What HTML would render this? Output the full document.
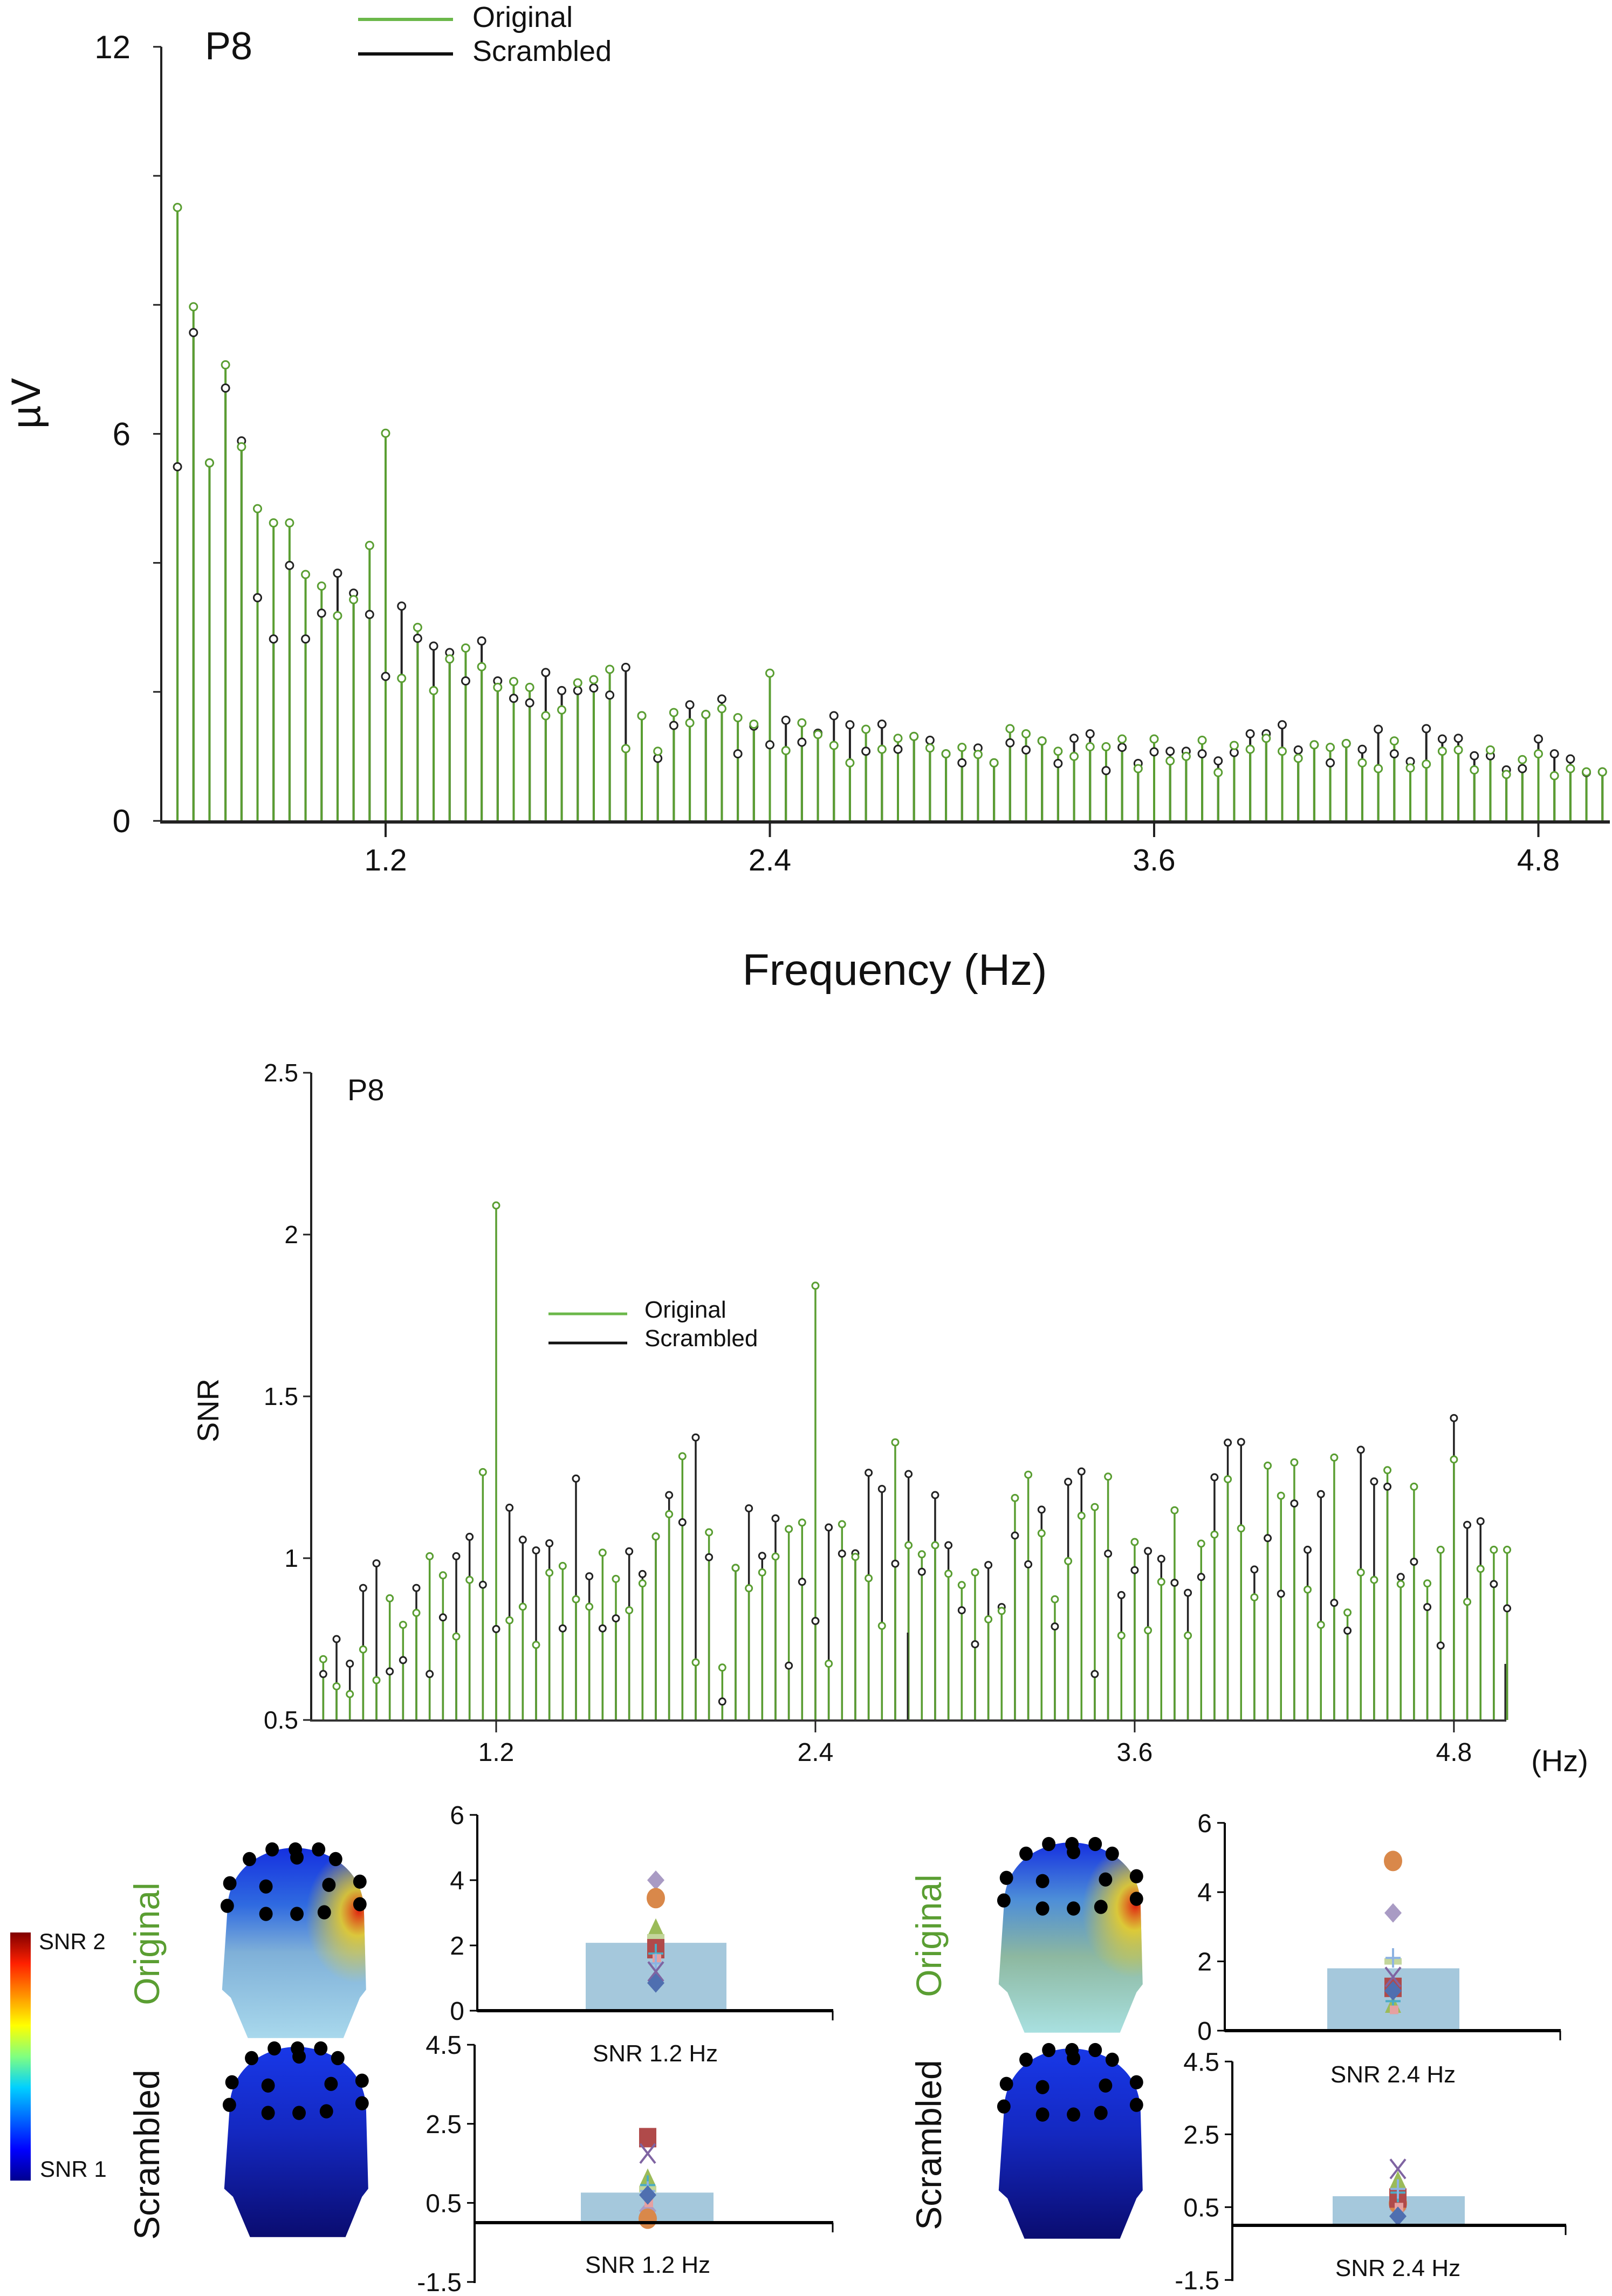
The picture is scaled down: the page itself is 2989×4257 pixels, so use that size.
<!DOCTYPE html>
<html><head><meta charset="utf-8"><style>
html,body{margin:0;padding:0;background:#fff;}
svg{display:block;font-family:"Liberation Sans",sans-serif;}
</style></head><body>
<svg id="fig" width="2989" height="4257" viewBox="0 0 2989 4257" xmlns="http://www.w3.org/2000/svg">
<defs>
<linearGradient id="gOrig" x1="0" y1="0" x2="0" y2="1">
<stop offset="0" stop-color="#1530e0"/><stop offset="0.3" stop-color="#2f6ae0"/><stop offset="0.55" stop-color="#7fb0d8"/><stop offset="1" stop-color="#a8d8ec"/></linearGradient>
<linearGradient id="gOrig2" x1="0" y1="0" x2="0" y2="1">
<stop offset="0" stop-color="#1530e0"/><stop offset="0.3" stop-color="#4d8ed8"/><stop offset="0.6" stop-color="#8db8a0"/><stop offset="1" stop-color="#a8e0e0"/></linearGradient>
<radialGradient id="hot" cx="0.93" cy="0.36" r="0.35" fx="0.95" fy="0.33">
<stop offset="0" stop-color="#e02010" stop-opacity="1"/><stop offset="0.35" stop-color="#f0d020" stop-opacity="0.85"/><stop offset="1" stop-color="#f0d020" stop-opacity="0"/></radialGradient>
<linearGradient id="gScr" x1="0" y1="0" x2="0" y2="1">
<stop offset="0" stop-color="#1838e8"/><stop offset="0.45" stop-color="#1428c0"/><stop offset="1" stop-color="#0a0c70"/></linearGradient>
<linearGradient id="cbar" x1="0" y1="1" x2="0" y2="0">
<stop offset="0" stop-color="#00008f"/><stop offset="0.125" stop-color="#0000ff"/><stop offset="0.375" stop-color="#00d0ff"/><stop offset="0.5" stop-color="#80ff80"/><stop offset="0.625" stop-color="#ffff00"/><stop offset="0.875" stop-color="#ff2000"/><stop offset="1" stop-color="#800000"/></linearGradient>
</defs>
<g id="top"></g>
<g id="snr"></g>
<g id="bottom"></g>
</svg>
<script>
const NS="http://www.w3.org/2000/svg";
function mk(parent,tag,attrs,text){const e=document.createElementNS(NS,tag);for(const k in attrs)e.setAttribute(k,attrs[k]);if(text!==undefined)e.textContent=text;parent.appendChild(e);return e;}

// ---------- data ----------
const freqStart=0.55, freqStep=0.05;
const ampOriginal=[9.51,7.97,5.55,7.07,5.80,4.84,4.62,4.62,3.82,3.64,3.18,3.43,4.27,6.01,2.21,3.00,2.02,2.51,2.68,2.39,2.07,2.16,2.07,1.63,1.72,2.14,2.19,2.35,1.12,1.63,1.08,1.68,1.52,1.65,1.74,1.60,1.50,2.29,1.09,
1.52,1.34,1.17,0.90,1.42,1.11,1.28,1.31,1.13,1.04,1.14,1.03,0.90,1.43,1.35,1.24,1.08,1.00,1.15,1.15,1.27,0.81,1.27,0.93,1.00,1.25,0.75,1.17,1.11,1.28,1.08,0.97,1.18,1.14,1.20,0.90,0.81,1.24,0.82,0.88,1.08,1.10,0.79,1.10,0.72,0.95,1.04,0.70,0.81,0.76,0.76];
const ampScrambled=[5.49,7.57,5.55,6.71,5.89,3.46,2.82,3.96,2.82,3.22,3.84,3.53,3.20,2.24,3.33,2.83,2.71,2.61,2.17,2.79,2.17,1.90,1.83,2.30,2.02,2.02,2.06,1.95,2.38,1.63,0.97,1.48,1.80,1.65,1.89,1.04,1.47,1.18,1.56,
1.22,1.36,1.63,1.49,1.08,1.50,1.11,1.31,1.25,1.04,0.90,1.13,0.90,1.21,1.10,1.24,0.89,1.28,1.35,0.78,1.14,0.89,1.07,1.08,1.08,1.04,0.93,1.06,1.35,1.35,1.49,1.10,1.18,0.90,1.20,1.11,1.42,1.04,0.92,1.43,1.27,1.28,1.01,1.01,0.79,0.81,1.27,1.04,0.96,0.75,0.76];
const snrOriginal=[0.688,0.604,0.58,0.718,0.623,0.876,0.794,0.831,1.006,0.947,0.758,0.933,1.266,2.09,0.808,0.85,0.732,0.955,0.976,0.873,0.85,1.017,0.936,0.839,0.922,1.067,1.136,1.315,0.678,1.08,0.662,0.97,0.907,0.956,1.005,1.09,1.11,1.842,0.674,1.105,1.004,0.938,0.791,1.358,1.04,
1.012,1.04,0.952,0.917,0.956,0.811,0.837,1.186,1.258,1.077,0.873,0.991,1.131,1.158,1.252,0.761,1.05,0.777,0.927,1.148,0.761,1.045,1.073,1.244,1.092,0.879,1.286,1.193,1.296,0.903,0.794,1.311,0.832,0.956,0.933,1.272,0.92,1.221,0.922,1.026,1.305,0.865,0.967,1.026,1.026];
const snrScrambled=[0.642,0.75,0.674,0.908,0.984,0.65,0.685,0.908,0.642,0.817,1.006,1.066,0.918,0.781,1.156,1.057,1.024,1.046,0.783,1.246,0.944,0.783,0.814,1.021,0.951,1.067,1.195,1.111,1.373,1.003,0.557,0.97,1.154,1.007,1.123,0.668,0.927,0.806,1.095,1.014,1.015,1.264,1.214,0.983,1.26,
0.958,1.195,1.04,0.839,0.734,0.979,0.849,1.07,0.981,1.15,0.789,1.236,1.268,0.642,1.014,0.886,0.963,1.022,0.998,0.924,0.893,0.942,1.25,1.357,1.359,0.965,1.062,0.89,1.169,1.026,1.198,0.862,0.776,1.335,1.237,1.221,0.942,0.989,0.849,0.73,1.433,1.103,1.114,0.92,0.845];
const xTicks=[1.2,2.4,3.6,4.8];
const xTickLabels=["1.2","2.4","3.6","4.8"];
const ampTicks=[0,2,4,6,8,10,12];
const ampTickLabels={0:"0",6:"6",12:"12"};
const snrTicks=[0.5,1,1.5,2,2.5];
const snrTickLabels=["0.5","1","1.5","2","2.5"];
// bar panels
const barMeans=[2.08,0.76,1.80,0.80];
const barLabels=["SNR 1.2 Hz","SNR 1.2 Hz","SNR 2.4 Hz","SNR 2.4 Hz"];
const markerTypes=["diamondL","circle","triangle","dash","square","star","pink","plus","x","diamondB"];
const marks1=[4.0,3.45,2.5,2.25,1.9,1.75,1.6,1.45,1.2,0.85];
const marks2=[0.3,0.1,1.1,0.85,2.15,0.95,0.5,0.8,1.75,0.7];
const marks3=[3.4,4.9,0.7,2.0,1.25,0.85,0.6,2.1,1.55,1.15];
const marks4=[0.45,0.6,1.2,0.65,0.75,0.9,0.5,1.0,1.55,0.25];
const GREEN="#5a9e32";

// ---------- top amplitude chart ----------
(function(){
const g=document.getElementById('top');
const x=f=>715+(f-1.2)*593.75, y=v=>1522-v*119.6;
const ax=mk(g,'line',{x1:299,y1:y(12),x2:299,y2:1524,stroke:'#222','stroke-width':4});

ampTicks.forEach(t=>{const tk=mk(g,'line',{x1:284,y1:y(t),x2:299,y2:y(t),stroke:'#222','stroke-width':3});

if(ampTickLabels[t]!==undefined){const l=mk(g,'text',{x:242,y:y(t)+21,'text-anchor':'end','font-size':60,fill:'#111'},ampTickLabels[t]);
}});
ampScrambled.forEach((v,i)=>{const f=freqStart+i*freqStep;const s=mk(g,'line',{x1:x(f),y1:1522,x2:x(f),y2:y(v),stroke:'#222','stroke-width':4});
});
ampOriginal.forEach((v,i)=>{const f=freqStart+i*freqStep;const s=mk(g,'line',{x1:x(f),y1:1522,x2:x(f),y2:y(v),stroke:GREEN,'stroke-width':4});
});
ampScrambled.forEach((v,i)=>{const f=freqStart+i*freqStep;const c=mk(g,'circle',{cx:x(f),cy:y(v),r:7,fill:'#fff',stroke:'#222','stroke-width':3});
});
ampOriginal.forEach((v,i)=>{const f=freqStart+i*freqStep;const c=mk(g,'circle',{cx:x(f),cy:y(v),r:7,fill:'#fff',stroke:GREEN,'stroke-width':3});
});
const bl=mk(g,'line',{x1:297,y1:1524,x2:2985,y2:1524,stroke:'#222','stroke-width':6});

xTicks.forEach((t,i)=>{const tk=mk(g,'line',{x1:x(t),y1:1524,x2:x(t),y2:1552,stroke:'#222','stroke-width':4});

const l=mk(g,'text',{x:x(t),y:1614,'text-anchor':'middle','font-size':57,fill:'#111'},xTickLabels[i]);
});
let t=mk(g,'text',{x:1659,y:1826,'text-anchor':'middle','font-size':82,fill:'#111'},'Frequency (Hz)');

t=mk(g,'text',{x:0,y:0,transform:'translate(74,748) rotate(-90)','text-anchor':'middle','font-size':76,fill:'#111'},'µV');

t=mk(g,'text',{x:380,y:110,'font-size':72,fill:'#111'},'P8');

let l=mk(g,'line',{x1:664,y1:36,x2:840,y2:36,stroke:'#6bb84a','stroke-width':6});
l=mk(g,'line',{x1:664,y1:100,x2:840,y2:100,stroke:'#111','stroke-width':6});
t=mk(g,'text',{x:876,y:50,'font-size':54,fill:'#111'},'Original');
t=mk(g,'text',{x:876,y:113,'font-size':54,fill:'#111'},'Scrambled');
})();

// ---------- SNR chart ----------
(function(){
const g=document.getElementById('snr');
const x=f=>920+(f-1.2)*493.3, y=v=>3189-(v-0.5)*600;
const ax=mk(g,'line',{x1:577,y1:y(2.5),x2:577,y2:3191,stroke:'#222','stroke-width':4});

snrTicks.forEach((t,i)=>{const tk=mk(g,'line',{x1:562,y1:y(t),x2:577,y2:y(t),stroke:'#222','stroke-width':3});

const l=mk(g,'text',{x:553,y:y(t)+16,'text-anchor':'end','font-size':46,fill:'#111'},snrTickLabels[i]);
});
snrScrambled.forEach((v,i)=>{const f=freqStart+i*freqStep;const s=mk(g,'line',{x1:x(f),y1:3189,x2:x(f),y2:y(v),stroke:'#222','stroke-width':3.5});
});
snrOriginal.forEach((v,i)=>{const f=freqStart+i*freqStep;const s=mk(g,'line',{x1:x(f),y1:3189,x2:x(f),y2:y(v),stroke:GREEN,'stroke-width':3.5});
});
snrScrambled.forEach((v,i)=>{const f=freqStart+i*freqStep;const c=mk(g,'circle',{cx:x(f),cy:y(v),r:6,fill:'#fff',stroke:'#222','stroke-width':3});
});
snrOriginal.forEach((v,i)=>{const f=freqStart+i*freqStep;const c=mk(g,'circle',{cx:x(f),cy:y(v),r:6,fill:'#fff',stroke:GREEN,'stroke-width':3});
});
let a=mk(g,'line',{x1:1683,y1:3027,x2:1683,y2:3189,stroke:'#222','stroke-width':3});
a=mk(g,'line',{x1:2791,y1:3085,x2:2791,y2:3189,stroke:'#222','stroke-width':3});
const bl=mk(g,'line',{x1:575,y1:3190,x2:2793,y2:3190,stroke:'#333','stroke-width':4});

xTicks.forEach((t,i)=>{const tk=mk(g,'line',{x1:x(t),y1:3190,x2:x(t),y2:3212,stroke:'#222','stroke-width':3});

const l=mk(g,'text',{x:x(t),y:3265,'text-anchor':'middle','font-size':48,fill:'#111'},xTickLabels[i]);
});
let t=mk(g,'text',{x:2892,y:3284,'text-anchor':'middle','font-size':56,fill:'#111'},'(Hz)');

t=mk(g,'text',{x:0,y:0,transform:'translate(405,2615) rotate(-90)','text-anchor':'middle','font-size':56,fill:'#111'},'SNR');

t=mk(g,'text',{x:644,y:2040,'font-size':56,fill:'#111'},'P8');

let l=mk(g,'line',{x1:1017,y1:2436,x2:1163,y2:2436,stroke:'#6bb84a','stroke-width':5});
l=mk(g,'line',{x1:1017,y1:2490,x2:1163,y2:2490,stroke:'#111','stroke-width':5});
t=mk(g,'text',{x:1195,y:2443,'font-size':44,fill:'#111'},'Original');
t=mk(g,'text',{x:1195,y:2496,'font-size':44,fill:'#111'},'Scrambled');
})();

// ---------- bottom panels ----------
(function(){
const g=document.getElementById('bottom');
// colorbar
let r=mk(g,'rect',{x:19,y:3583,width:38,height:460,fill:'url(#cbar)'});
let t=mk(g,'text',{x:72,y:3614,'font-size':42,fill:'#111'},'SNR 2');
t=mk(g,'text',{x:74,y:4036,'font-size':42,fill:'#111'},'SNR 1');
// condition labels
const conds=[[273,3604,'Original',GREEN,'original-label-left'],[273,3995,'Scrambled','#111','scrambled-label-left'],[1723,3589,'Original',GREEN,'original-label-right'],[1723,3977,'Scrambled','#111','scrambled-label-right']];
conds.forEach(c=>{const e=mk(g,'text',{x:0,y:0,transform:`translate(${c[0]+22},${c[1]}) rotate(-90)`,'text-anchor':'middle','font-size':66,fill:c[3]},c[2]);
});
// heads
const headPath="M15,210 C15,60 95,10 145,10 C195,10 280,60 280,210 L284,450 L272,475 L240,600 L55,600 L22,475 L5,450 Z";
const dots=[[102,15],[147,15],[192,15],[58,45],[150,40],[225,45],[20,120],[90,130],[212,125],[272,115],[15,190],[90,215],[150,215],[203,210],[272,185]];
const heads=[[407,3420,'url(#gOrig)',true,'head-original-1-2hz'],[411,3789,'url(#gScr)',false,'head-scrambled-1-2hz'],[1847,3410,'url(#gOrig2)',true,'head-original-2-4hz'],[1847,3792,'url(#gScr)',false,'head-scrambled-2-4hz']];
heads.forEach(h=>{const hg=mk(g,'g',{transform:`translate(${h[0]},${h[1]}) scale(0.957,0.598)`});

mk(hg,'path',{d:headPath,fill:h[2]});
if(h[3])mk(hg,'path',{d:headPath,fill:'url(#hot)'});
dots.forEach(d=>{const c=mk(hg,'ellipse',{cx:d[0],cy:d[1],rx:13,ry:22,fill:'#000'});
});});
// bar charts
const panels=[
 {ax:885,y0:3728,ppu:60.5,ticks:[0,2,4,6],tl:["0","2","4","6"],xEnd:1545,bx0:1086,bx1:1347,cx:1216,ly:3822,lx:1215,m:marks1},
 {ax:880,y0:4121,ppu:73.3,ticks:[-1.5,0.5,2.5,4.5],tl:["-1.5","0.5","2.5","4.5"],xEnd:1545,bx0:1077,bx1:1323,cx:1201,ly:4214,lx:1201,m:marks2},
 {ax:2271,y0:3765,ppu:64.2,ticks:[0,2,4,6],tl:["0","2","4","6"],xEnd:2894,bx0:2461,bx1:2706,cx:2583,ly:3861,lx:2583,m:marks3},
 {ax:2285,y0:4126,ppu:67.5,ticks:[-1.5,0.5,2.5,4.5],tl:["-1.5","0.5","2.5","4.5"],xEnd:2904,bx0:2471,bx1:2716,cx:2592,ly:4220,lx:2592,m:marks4}];
const mcol={diamondL:'#a99bc4',circle:'#d9884a',triangle:'#9bbb59',dash:'#c3d69b',square:'#b04a4a',star:'#4bacc6',pink:'#e6a0a0',plus:'#8db3e2',x:'#7f64a2',diamondB:'#4f6fb0'};
panels.forEach((p,pi)=>{
 const pg=mk(g,'g',{});
 const y=v=>p.y0-v*p.ppu;
 const top=Math.max(...p.ticks), bot=Math.min(...p.ticks);
 const b=mk(pg,'rect',{x:p.bx0,y:y(barMeans[pi]),width:p.bx1-p.bx0,height:p.y0-y(barMeans[pi]),fill:'#a5c8dc'});
 
 p.m.forEach((v,k)=>{const ty=markerTypes[k],c=mcol[ty],cx=p.cx,cy=y(v);let e;
  if(ty==='diamondL'||ty==='diamondB')e=mk(pg,'polygon',{points:`${cx},${cy-18} ${cx+16},${cy} ${cx},${cy+18} ${cx-16},${cy}`,fill:c});
  else if(ty==='circle')e=mk(pg,'ellipse',{cx:cx,cy:cy,rx:17,ry:19,fill:c});
  else if(ty==='triangle')e=mk(pg,'polygon',{points:`${cx},${cy-20} ${cx+15},${cy+12} ${cx-15},${cy+12}`,fill:c});
  else if(ty==='dash')e=mk(pg,'rect',{x:cx-16,y:cy-6,width:32,height:12,fill:c});
  else if(ty==='square')e=mk(pg,'rect',{x:cx-16,y:cy-18,width:32,height:36,fill:c});
  else if(ty==='pink')e=mk(pg,'rect',{x:cx-6,y:cy-8,width:16,height:16,fill:c});
  else if(ty==='x')e=mk(pg,'path',{d:`M${cx-14},${cy-18}L${cx+14},${cy+18}M${cx+14},${cy-18}L${cx-14},${cy+18}`,stroke:c,'stroke-width':4});
  else e=mk(pg,'path',{d:`M${cx},${cy-18}V${cy+18}M${cx-14},${cy}H${cx+14}`,stroke:c,'stroke-width':4});
  });
 const a=mk(pg,'line',{x1:p.ax,y1:y(top),x2:p.ax,y2:y(bot)+2,stroke:'#000','stroke-width':4});
 
 p.ticks.forEach((tv,i)=>{const tk=mk(pg,'line',{x1:p.ax-14,y1:y(tv),x2:p.ax,y2:y(tv),stroke:'#000','stroke-width':3});
  
  const l=mk(pg,'text',{x:p.ax-24,y:y(tv)+17,'text-anchor':'end','font-size':48,fill:'#111'},p.tl[i]);
  });
 const xa=mk(pg,'line',{x1:p.ax,y1:p.y0,x2:p.xEnd,y2:p.y0,stroke:'#000','stroke-width':6});
 
 const et=mk(pg,'line',{x1:p.xEnd-1,y1:p.y0,x2:p.xEnd-1,y2:p.y0+18,stroke:'#000','stroke-width':3});
 
 const lab=mk(pg,'text',{x:p.lx,y:p.ly,'text-anchor':'middle','font-size':44,fill:'#111'},barLabels[pi]);
 
});
})();
</script>
</body></html>
